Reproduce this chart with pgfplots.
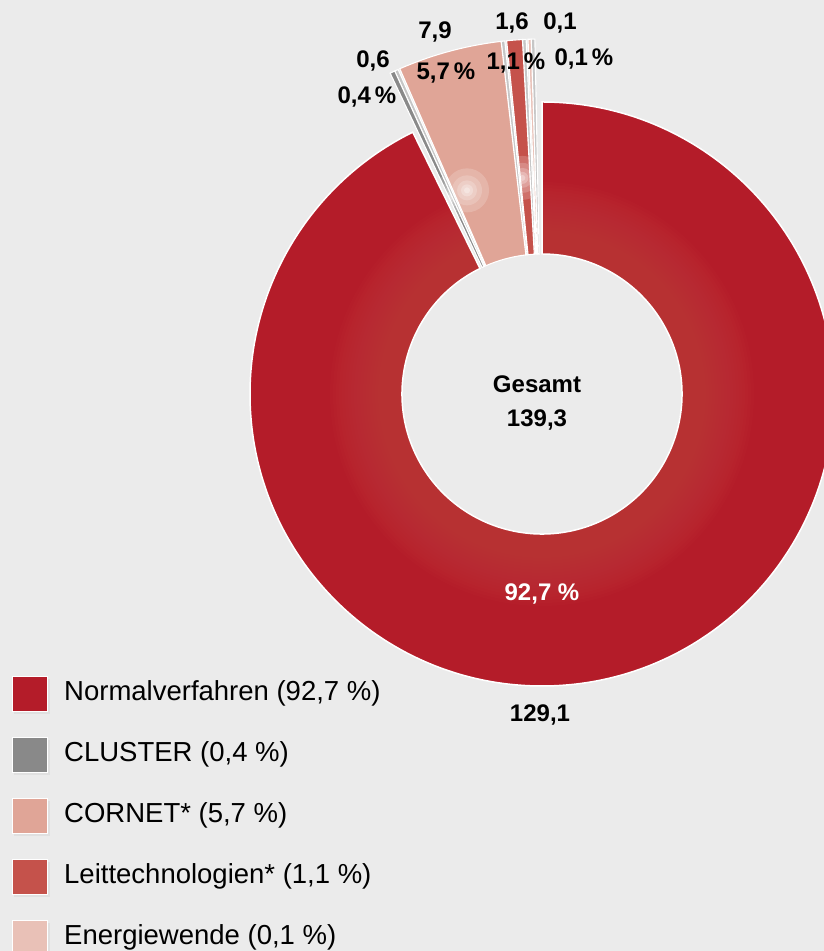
\documentclass[border=0pt]{standalone}
\usepackage{pgfplots}
\pgfplotsset{compat=1.18}
\usepackage{pgfplotstable}
\usepackage{etoolbox}
\usetikzlibrary{calc}
\usepackage{fontspec}
\setmainfont{Liberation Sans}

\definecolor{bg}{HTML}{EBEBEB}
\definecolor{c0}{HTML}{B41C29}
\definecolor{c0light}{HTML}{C43E3F}
\definecolor{c1}{HTML}{898989}
\definecolor{c2}{HTML}{E0A597}
\definecolor{c3}{HTML}{C5524B}
\definecolor{c4}{HTML}{E9C1B7}
\definecolor{sidegray}{HTML}{C6C6C6}

% Foerdermittel in Mio. Euro, Anteil in %
\pgfplotstableread[col sep=comma]{
name,value,pct
Normalverfahren,129.1,92.7
CLUSTER,0.6,0.4
CORNET*,7.9,5.7
Leittechnologien*,1.6,1.1
Energiewende,0.1,0.1
}\foerderung

\newcommand\num[1]{\pgfmathprintnumber[fixed,precision=1,zerofill,use comma,assume math mode=true]{#1}}
\newcommand\legfont{\fontsize{27.5bp}{31bp}\selectfont}
\newcommand\lblfont{\bfseries\fontsize{24bp}{27bp}\selectfont}
% ring segment around (C): start angle, end angle, inner radius, outer radius
\newcommand\ringpath[4]{($(C)+(#1:#4)$) arc[start angle=#1,end angle=#2,radius=#4]
  -- ($(C)+(#2:#3)$) arc[start angle=#2,end angle=#1,radius=#3] -- cycle}
% soft white highlight at a point
\newcommand\glow[1]{%
  \fill[white,opacity=0.18] #1 circle[radius=22bp];
  \fill[white,opacity=0.18] #1 circle[radius=15bp];
  \fill[white,opacity=0.2] #1 circle[radius=10bp];
  \fill[white,opacity=0.25] #1 circle[radius=6bp];
  \fill[white,opacity=0.3] #1 circle[radius=3bp];}
% lighter zone of the ring near the hole
\gdef\ringglow{}
\foreach \r in {212,209,...,143}{%
  \xappto\ringglow{\noexpand\fill[c0light,opacity=0.075] (C) circle[radius=\r bp];}}

% names, values, total
\gdef\total{0}
\foreach \i in {0,...,4}{%
  \pgfplotstablegetelem{\i}{name}\of\foerderung
  \expandafter\xdef\csname name\i\endcsname{\pgfplotsretval}%
  \pgfplotstablegetelem{\i}{pct}\of\foerderung
  \expandafter\xdef\csname pct\i\endcsname{\pgfplotsretval}%
  \pgfplotstablegetelem{\i}{value}\of\foerderung
  \expandafter\xdef\csname val\i\endcsname{\pgfplotsretval}%
  \pgfmathsetmacro\tmp{\total+\pgfplotsretval}\xdef\total{\tmp}%
}

% main slice runs clockwise from 12 o'clock
\pgfplotstablegetelem{0}{pct}\of\foerderung
\pgfmathsetmacro\mainend{90-3.6*\pgfplotsretval}
% small slices share the rest, with a minimum width and gaps
\pgfmathsetmacro\topang{\mainend+360-0.8}
\pgfmathsetmacro\range{\topang-91}
\pgfmathsetmacro\kfac{\range/(\mainend+270)}
\gdef\slotsum{0}
\foreach \i in {1,...,4}{%
  \pgfplotstablegetelem{\i}{pct}\of\foerderung
  \pgfmathsetmacro\tmp{max(3.6*\pgfplotsretval*\kfac,1.4+1.08*\pgfplotsretval)}%
  \expandafter\xdef\csname slot\i\endcsname{\tmp}%
  \pgfmathsetmacro\tmp{\slotsum+\tmp}\xdef\slotsum{\tmp}%
}
\xdef\curang{\topang}
\gdef\smallslices{}
\foreach \i in {1,...,4}{%
  \edef\slotw{\csname slot\i\endcsname}%
  \pgfmathsetmacro\slotw{\slotw*\range/\slotsum}%
  \pgfmathsetmacro\fA{\curang-0.15}%
  \pgfmathsetmacro\fB{\curang-\slotw+0.75}%
  \pgfmathsetmacro\sB{\curang-\slotw+0.15}%
  \pgfmathsetmacro\gl{\fA-0.2*(\fA-\fB)}%
  \xappto\smallslices{%
    \noexpand\filldraw[fill=sidegray,draw=white,line width=1.1bp] \noexpand\ringpath{\fB}{\sB}{140bp}{355bp};%
    \noexpand\fill[c\i] \noexpand\ringpath{\fA}{\fB}{140bp}{355bp};%
    \noexpand\begin{scope}\noexpand\clip \noexpand\ringpath{\fA}{\fB}{140bp}{355bp};%
    \noexpand\glow{($(C)+(\gl:217bp)$)}%
    \noexpand\end{scope}%
    \noexpand\draw[white,line width=1.1bp] \noexpand\ringpath{\fA}{\fB}{140bp}{355bp};%
  }%
  \pgfmathsetmacro\tmp{\curang-\slotw}\xdef\curang{\tmp}%
}

\begin{document}
\begin{tikzpicture}
\begin{axis}[
  x=1bp, y=1bp,
  xmin=0, xmax=824, ymin=0, ymax=951,
  hide axis,
  anchor=origin, at={(0,0)},
]
\fill[bg] (axis cs:0,0) rectangle (axis cs:824,951);
\coordinate (C) at (axis cs:542,557);

% main slice
\fill[c0] \ringpath{90}{\mainend}{140bp}{292bp};
\begin{scope}
  \clip \ringpath{90}{\mainend}{140bp}{292bp};
  \ringglow
\end{scope}
\draw[white,line width=1.5bp] \ringpath{90}{\mainend}{140bp}{292bp};
% small slices
\smallslices

% labels
\node[font=\lblfont] at (axis cs:373,890) {\num{\csname val1\endcsname}};
\node[font=\lblfont] at (axis cs:367,854) {\num{\csname pct1\endcsname}\,\%};
\node[font=\lblfont] at (axis cs:435,919) {\num{\csname val2\endcsname}};
\node[font=\lblfont] at (axis cs:446,878) {\num{\csname pct2\endcsname}\,\%};
\node[font=\lblfont] at (axis cs:512,928) {\num{\csname val3\endcsname}};
\node[font=\lblfont] at (axis cs:516,888) {\num{\csname pct3\endcsname}\,\%};
\node[font=\lblfont] at (axis cs:560,928) {\num{\csname val4\endcsname}};
\node[font=\lblfont] at (axis cs:584,892) {\num{\csname pct4\endcsname}\,\%};

\node[font=\lblfont] at (axis cs:537,567) {Gesamt};
\node[font=\lblfont] at (axis cs:537,531) {\num{\total}};
\node[font=\lblfont,text=white] at (axis cs:542,357) {\num{\csname pct0\endcsname}\ \%};
\node[font=\lblfont] at (axis cs:540,236) {\num{\csname val0\endcsname}};

% legend
\pgfplotsinvokeforeach{0,...,4}{%
  \fill[black!12] (axis cs:14,{237-61*#1}) rectangle (axis cs:50,{272-61*#1});
  \filldraw[fill=c#1,draw=white,line width=0.8bp] (axis cs:12,{240-61*#1}) rectangle (axis cs:47,{275-61*#1});
  \node[anchor=west,font=\legfont,inner sep=0pt] at (axis cs:64,{257.5-61*#1}) {\csname name#1\endcsname\ (\num{\csname pct#1\endcsname}\ \%)};
}
\end{axis}
\end{tikzpicture}
\end{document}
